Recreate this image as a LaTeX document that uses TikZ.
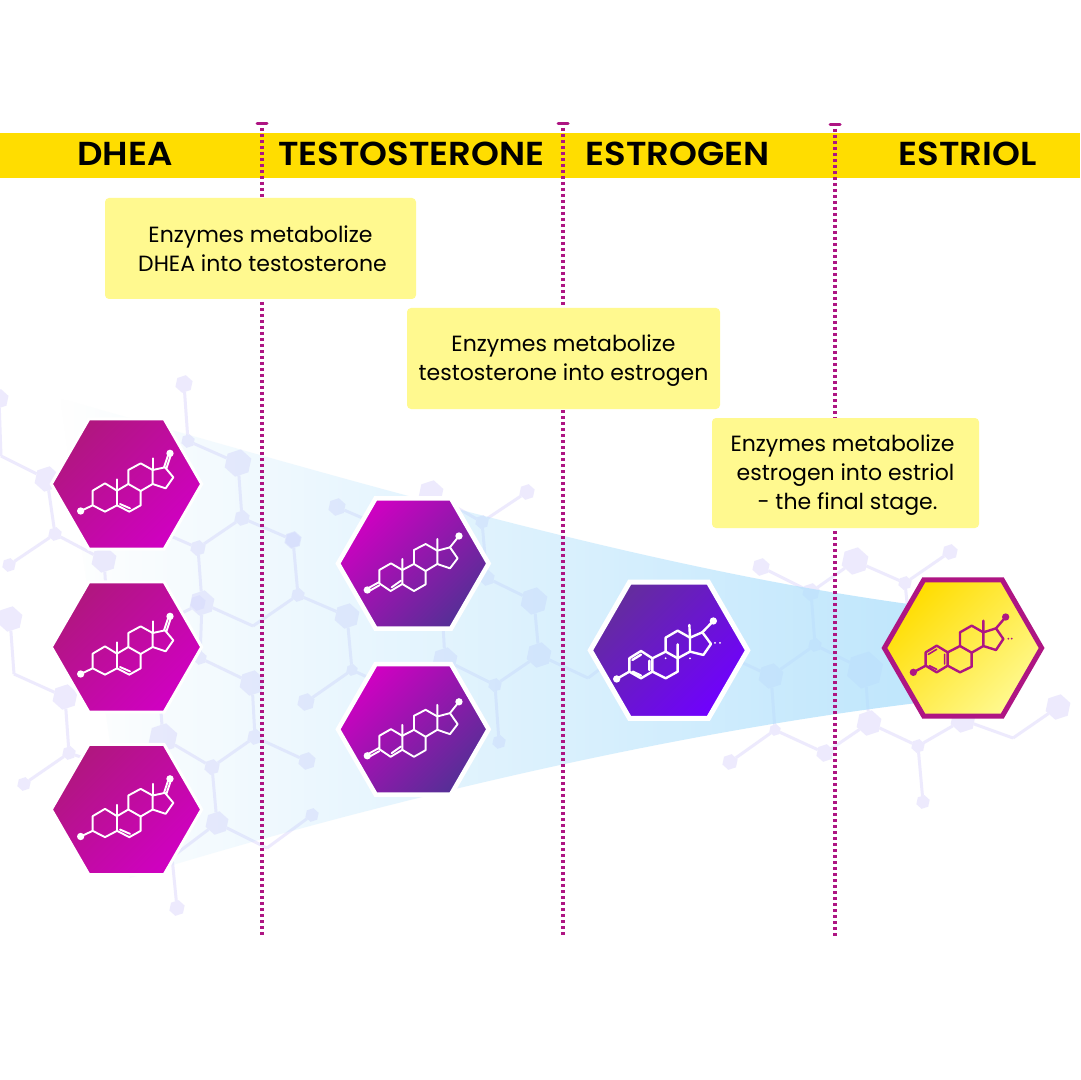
\documentclass[tikz,border=0pt]{standalone}
\usepackage{fontspec}
\setmainfont{Poppins}
\newfontfamily\hdfont[FakeStretch=1.07]{Poppins SemiBold}
\usetikzlibrary{shapes.geometric,fadings}
\definecolor{band}{HTML}{FFDD00}
\definecolor{notefill}{HTML}{FFF98F}
\definecolor{rulecol}{HTML}{AE1583}
\definecolor{netcol}{HTML}{C8C0FA}
\definecolor{funnelend}{HTML}{AFE0FC}
\newcommand\ns{\rule[-3pt]{0pt}{13pt}}
\newcommand\nsa{\rule[-3pt]{0pt}{14.5pt}}
\tikzfading[name=funnelfade,left color=transparent!100,right color=transparent!20]
\tikzset{
  bghex/.style={regular polygon,regular polygon sides=6,shape border rotate=18,fill=netcol,inner sep=0pt,outer sep=0pt},
  bgline/.style={draw=netcol,line width=1.5pt},
  hexbase/.style={regular polygon,regular polygon sides=6,inner sep=0pt,outer sep=0pt,line join=miter},
  dheahex/.style={hexbase,minimum size=75.2pt,draw=white,line width=1.5pt,left color=dheaA,right color=dheaB,shading angle=45},
  testhex/.style={hexbase,minimum size=75.3pt,draw=white,line width=2.25pt,left color=testA,right color=testB,shading angle=45},
  estrohex/.style={hexbase,minimum size=78.7pt,draw=white,line width=2.5pt,left color=estrA,right color=estrB,shading angle=45},
  estrihex/.style={hexbase,minimum size=78.6pt,draw=rulecol,line width=2.5pt,left color=band,right color=notefill,shading angle=45},
  notebox/.style={fill=notefill,rounded corners=2pt,inner sep=0pt,align=center,font=\fontsize{11pt}{14.5pt}\selectfont,text=black},
  title/.style={font=\fontsize{16.6pt}{20pt}\selectfont\hdfont,text=black,inner sep=0pt},
  dotrule/.style={draw=rulecol,line width=1.6pt,dash pattern=on 1.6pt off 1.4pt},
  rulecap/.style={draw=rulecol,line width=1.5pt,line cap=round},
  bond/.style={line width=#1,line join=round,line cap=round},
  bond/.default=0.95pt,
  molA/.pic={
    \begin{scope}[scale=1/3,shift={(-259.5,-252)}]
    \draw[bond,pic actions] (122,333)--(158,316)--(158,272)--(195,250)--(231,272)--(231,316)--(195,335)--(158,316);
    \draw[bond,pic actions] (231,272)--(265,252)--(302,273)--(302,316)--(268,335)--(231,316);
    \draw[bond,pic actions] (240,312)--(270,325);
    \draw[bond,pic actions] (265,252)--(265,210)--(302,190)--(338,210)--(338,252)--(302,273);
    \draw[bond,pic actions] (338,210)--(375,202)--(400,232)--(377,265)--(338,252);
    \draw[bond,pic actions] (372,202)--(386,160) (379,206)--(393,164);
    \draw[bond,pic actions] (231,272)--(231,238) (338,210)--(338,175);
    \fill[pic actions] (122,333) circle (11) (390,160) circle (11);
    \end{scope}},
  molT/.pic={
    \begin{scope}[scale=1/3,shift={(-250,-220.5)}]
    \draw[bond,pic actions] (148,240)--(148,280)--(182,303)--(217,282)--(217,240)--(183,220)--(148,240);
    \draw[bond,pic actions] (112,296)--(148,276) (116,304)--(148,286);
    \draw[bond,pic actions] (185,292)--(213,272);
    \draw[bond,pic actions] (217,240)--(252,222)--(287,243)--(287,283)--(252,303)--(217,282);
    \draw[bond,pic actions] (252,222)--(252,180)--(287,162)--(322,182)--(322,222)--(287,243);
    \draw[bond,pic actions] (322,182)--(360,172)--(383,205)--(360,235)--(322,222);
    \draw[bond,pic actions] (360,172)--(387,138) (217,240)--(217,207) (322,182)--(322,147);
    \fill[pic actions] (112,300) circle (11) (387,138) circle (11);
    \end{scope}},
  molE/.pic={
    \begin{scope}[scale=1/3,shift={(-267,-241)}]
    \draw[bond=1.2pt,pic actions] (110,327)--(148,305)--(148,265)--(183,243)--(217,265)--(217,305)--(183,325)--(148,305);
    \draw[bond=1.2pt,pic actions] (157,270)--(183,254) (158,305)--(183,317) (208,272)--(208,300);
    \draw[bond=1.2pt,pic actions] (217,265)--(257,245)--(293,265)--(293,305)--(257,325)--(217,305);
    \draw[bond=1.2pt,pic actions] (257,245)--(257,203)--(293,182)--(330,203)--(330,245)--(293,265);
    \draw[bond=1.2pt,pic actions] (330,203)--(367,187)--(393,222)--(370,255)--(330,245);
    \draw[bond=1.2pt,pic actions] (367,187)--(400,153) (330,203)--(328,165) (293,265)--(293,223);
    \fill[pic actions] (110,327) circle (11) (400,153) circle (11);
    \fill[pic actions] (405,219) circle (3) (420,219) circle (3) (257,265) circle (3) (330,265) circle (3);
    \end{scope}},
  molS/.pic={
    \begin{scope}[scale=1/3,shift={(-279,-234)}]
    \draw[bond=1.2pt,pic actions] (130,307)--(167,287)--(167,247)--(200,227)--(233,247)--(233,287)--(200,307)--(167,287);
    \draw[bond=0.8pt,pic actions] (175,253)--(200,238) (178,287)--(200,298) (224,253)--(224,282);
    \draw[bond=1.2pt,pic actions] (233,247)--(270,228)--(305,248)--(305,290)--(270,307)--(233,287);
    \draw[bond=1.2pt,pic actions] (270,228)--(270,187)--(305,167)--(340,187)--(340,228)--(305,248);
    \draw[bond=1.2pt,pic actions] (340,187)--(378,175)--(400,207)--(378,240)--(340,228);
    \draw[bond=1.2pt,pic actions] (378,175)--(407,141) (340,187)--(340,152);
    \fill[pic actions] (130,307) circle (11) (407,141) circle (11);
    \fill[pic actions] (415,206) circle (3) (425,206) circle (3);
    \end{scope}},
}
\definecolor{dheaA}{HTML}{B0177F}\definecolor{dheaB}{HTML}{D000C2}
\definecolor{testA}{HTML}{D000C2}\definecolor{testB}{HTML}{552F96}
\definecolor{estrA}{HTML}{642D9D}\definecolor{estrB}{HTML}{7000FF}
\newcommand\hx[4]{\node[bghex,minimum size=#4pt] (#1) at (#2,#3) {};}
\begin{document}
\begin{tikzpicture}[x=0.5pt,y=-0.5pt]
\useasboundingbox (0,0) rectangle (1080,1080);
\fill[white] (0,0) rectangle (1080,1080);
% background network
\begin{scope}[transparency group,opacity=.32]
\hx{na}{184}{384}{9}\hx{nb}{188}{441}{7}\hx{nc}{238}{463}{14}\hx{nd}{242}{518}{8}
\hx{ne}{293}{540}{9}\hx{nf}{198}{548}{8}\hx{ng}{202}{603}{13}\hx{nh}{298}{595}{7}
\coordinate (ni) at (253,626);\hx{nj}{347}{616}{13}\hx{nk}{352}{670}{6}\hx{nl}{306}{702}{9}
\hx{nm}{200}{658}{7}\hx{nn}{252}{683}{13}\hx{no}{255}{737}{8}\hx{np}{307}{761}{9}
\hx{nq}{163}{738}{15}\hx{nr}{212}{767}{8}\hx{ns}{217}{823}{12}\coordinate (nt) at (267,848);
\hx{nu}{312}{815}{7}\coordinate (nv) at (172,857);\hx{nw}{177}{908}{8}\hx{nx}{337}{507}{9}
\coordinate (nx2) at (395,532);\coordinate (nf2) at (150,527);\coordinate (ng2) at (180,614);
\coordinate (nq2) at (161,712);\coordinate (nk2) at (395,690);
\hx{la}{-1}{399}{10}\coordinate (lb) at (1,456);\hx{lc}{47}{479}{13}\hx{ld}{55}{534}{7}
\hx{le}{9}{565}{7}\hx{lf}{104}{560}{13}\coordinate (lf2) at (106,590);
\hx{lg}{10}{619}{13}\coordinate (lh) at (14,674);\hx{li}{65}{697}{13}\hx{lj}{69}{753}{7}
\hx{lk}{24}{784}{7}\coordinate (lj2) at (90,760);
\hx{ma}{431}{493}{13}\hx{mb}{527}{492}{8}\hx{mc}{482}{522}{7}\hx{md}{487}{578}{8}
\hx{me}{534}{601}{14}\hx{mf}{539}{655}{13}\hx{mg}{445}{660}{13}\hx{mh}{495}{685}{7}
\hx{mi}{499}{742}{7}\coordinate (mj) at (588,678);\coordinate (mj2) at (612,660);
\coordinate (mg2) at (443,625);
\hx{ra}{761}{567}{9}\hx{rb}{811}{592}{9}\hx{rc}{855}{561}{14}\hx{rd}{950}{552}{8}
\hx{re}{905}{583}{7}\hx{rf}{815}{645}{7}\hx{rg}{771}{676}{13}\hx{rh}{865}{670}{19}
\hx{ri}{775}{730}{6}\hx{rj}{730}{762}{8}\hx{rk}{825}{753}{9}\hx{rl}{869}{723}{13}
\hx{rm}{918}{746}{7}\hx{rn}{963}{720}{13}\coordinate (ro) at (1013,738);\hx{rp}{1058}{707}{13}
\hx{rq}{923}{802}{7}\coordinate (re2) at (908,612);\coordinate (rg2) at (715,650);
\draw[bgline] (na)--(nb) (nb)--(nc) (nc)--(nd) (nd)--(ne) (nd)--(nf) (ne)--(nh) (nf)--(ng)
  (ng)--(ni) (ni)--(nh) (nh)--(nj) (ng)--(nm) (nm)--(nn) (nn)--(no) (no)--(np) (no)--(nr)
  (nr)--(nq) (nr)--(ns) (ns)--(nt) (nt)--(nu) (ns)--(nv) (nv)--(nw) (nj)--(nk) (nk)--(nl)
  (nx)--(nx2) (nf)--(nf2) (ng)--(ng2) (nq)--(nq2) (nk)--(nk2)
  (la)--(lb) (lb)--(lc) (lc)--(ld) (ld)--(le) (ld)--(lf) (lf)--(lf2) (lg)--(lh) (lh)--(li)
  (li)--(lj) (lj)--(lk) (lj)--(lj2)
  (ma)--(mc) (mb)--(mc) (mc)--(md) (md)--(me) (me)--(mf) (mf)--(mj) (mj)--(mj2) (mf)--(mh)
  (mh)--(mg) (mh)--(mi) (mg)--(mg2)
  (ra)--(rb) (rb)--(rc) (rc)--(re) (re)--(rd) (re)--(re2) (rb)--(rf) (rf)--(rg) (rf)--(rh)
  (rh)--(rl) (rg)--(ri) (ri)--(rj) (ri)--(rk) (rk)--(rl) (rl)--(rm) (rm)--(rn) (rm)--(rq)
  (rn)--(ro) (ro)--(rp) (rg)--(rg2);
\end{scope}
\begin{scope}[opacity=.22]
\hx{xa}{293}{540}{8}\hx{xb}{198}{603}{8}
\end{scope}
% funnel over the network
\fill[funnelend,path fading=funnelfade]
  (60,398) .. controls (350,480) and (650,570) .. (925,606)
  -- (925,702) .. controls (650,735) and (350,810) .. (130,878) -- cycle;
% band
\fill[band] (0,133) rectangle (1080,178);
% rules
\coordinate (cAl) at (257,124);\coordinate (cAr) at (267,124);\coordinate (rAt) at (262,128);\coordinate (rAb) at (262,935);
\coordinate (cBl) at (558,123.5);\coordinate (cBr) at (568,123.5);\coordinate (rBt) at (563,128);\coordinate (rBb) at (563,937);
\coordinate (cCl) at (830,125);\coordinate (cCr) at (840,125);\coordinate (rCt) at (835,129);\coordinate (rCb) at (835,938);
\draw[dotrule] (rAt)--(rAb);\draw[dotrule] (rBt)--(rBb);\draw[dotrule] (rCt)--(rCb);
\draw[rulecap] (cAl)--(cAr);\draw[rulecap] (cBl)--(cBr);\draw[rulecap] (cCl)--(cCr);
% titles
\node[title] (tDhea) at (125,154) {DHEA};
\node[title] (tTest) at (411.5,154) {TESTOSTERONE};
\node[title] (tEstr) at (677.5,154) {ESTROGEN};
\node[title] (tEstl) at (967.5,154) {ESTRIOL};
% notes
\node[notebox,minimum width=155.5pt,minimum height=50.5pt] (noteA) at (260.5,248.5)
  {\nsa Enzymes metabolize\\\hspace*{2pt}DHEA into testosterone\ns};
\node[notebox,minimum width=156.5pt,minimum height=50.5pt] (noteB) at (563.5,358.5)
  {\ns Enzymes metabolize\\testosterone into estrogen\ns};
\node[notebox,minimum width=133.5pt,minimum height=55pt] (noteC) at (845.5,473)
  {\ns Enzymes metabolize\hspace*{3pt}\\estrogen into estriol\\\hspace*{2pt}- the final stage.\ns};
% hexagons
\node[dheahex] (hA) at (126.5,484) {};
\node[dheahex] (hB) at (126.5,647) {};
\node[dheahex] (hC) at (126.5,809.5) {};
\node[testhex] (hD) at (413.3,563.5) {};
\node[testhex] (hE) at (413.3,729.3) {};
\node[estrohex] (hF) at (669,650.3) {};
\node[estrihex] (hG) at (963,648) {};
\pic[white] at (hA.center) {molA};
\pic[white] at (hB.center) {molA};
\pic[white] at (hC.center) {molA};
\pic[white] at (hD.center) {molT};
\pic[white] at (hE.center) {molT};
\pic[white] at (hF.center) {molE};
\pic[rulecol] at (hG.center) {molS};
\end{tikzpicture}
\end{document}
